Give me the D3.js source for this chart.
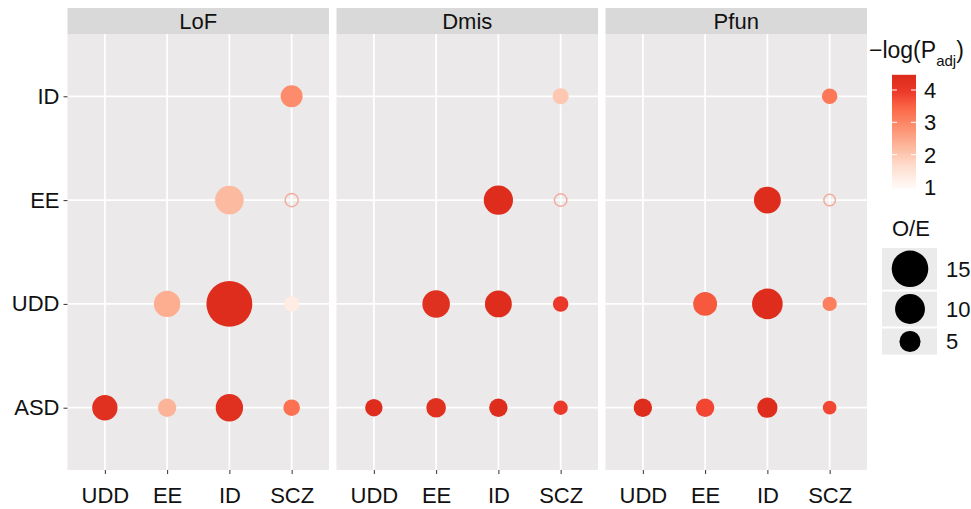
<!DOCTYPE html>
<html>
<head>
<meta charset="utf-8">
<script src="https://cdn.jsdelivr.net/npm/d3@7"></script>
<style>
  body { margin: 0; background: #fff; }
  text { font-family: "Liberation Sans", Arial, sans-serif; fill: #111; }
</style>
</head>
<body>
<svg id="chart" width="971" height="509"></svg>
<script>
// categories
const panels = ["LoF", "Dmis", "Pfun"];
const xCats = ["UDD", "EE", "ID", "SCZ"];
const yCats = ["ID", "EE", "UDD", "ASD"];   // top to bottom

// O/E per panel, rows follow yCats, columns follow xCats (null = no point)
const oeLoF  = [[null, null, null, 5.4], [null, null, 9.2, 2.4], [null, 7.8, 23.6, 2.6], [7.2, 3.8, 8.4, 3.1]];
const oeDmis = [[null, null, null, 2.9], [null, null, 9.6, 2.2], [null, 8.5, 8.1, 2.7], [3.4, 4.3, 3.8, 2.3]];
const oePfun = [[null, null, null, 2.7], [null, null, 8.1, 1.9], [null, 6.4, 10.5, 2.3], [3.8, 3.8, 4.6, 2.1]];

// -log(P_adj) per panel (values below 1 are drawn as open rings)
const lpLoF  = [[null, null, null, 2.9], [null, null, 2.2, 0.8], [null, 2.4, 4.4, 1.3], [4.3, 2.3, 4.3, 3.3]];
const lpDmis = [[null, null, null, 2.0], [null, null, 4.4, 0.8], [null, 4.3, 4.4, 4.0], [4.4, 4.3, 4.4, 4.0]];
const lpPfun = [[null, null, null, 3.2], [null, null, 4.4, 0.8], [null, 3.6, 4.4, 3.1], [4.4, 3.8, 4.4, 3.8]];

// legend breaks
const colorBreaks = [1, 2, 3, 4];
const sizeBreaks = [15, 10, 5];

const oeData = [oeLoF, oeDmis, oePfun];
const lpData = [lpLoF, lpDmis, lpPfun];

const svg = d3.select("#chart");

const panelW = 261.5, panelGap = 7.5, panelLeft = 67.5;
const panelTop = 34, panelBottom = 470, stripTop = 8;
const lpMin = 0.95, lpMax = 4.47;

const x = d3.scalePoint().domain(xCats).range([0, panelW]).padding(0.6);
const y = d3.scalePoint().domain(yCats).range([panelTop, panelBottom]).padding(0.6);
const r = d3.scaleSqrt().domain([0, 15]).range([0, 18.3]);
const color = d3.scaleLinear()
  .domain([lpMin, 1.6, 2.2, 2.8, 3.4, 3.9, 4.3, lpMax])
  .range(["#fffaf8", "#fee0d2", "#fcbba1", "#fc9272", "#fb6a4a", "#ef3b2c", "#e0301f", "#dc2a1c"])
  .interpolate(d3.interpolateLab).clamp(true);

// build point table
const points = [];
panels.forEach((p, pi) => {
  yCats.forEach((row, ri) => {
    xCats.forEach((col, ci) => {
      const oe = oeData[pi][ri][ci];
      if (oe == null) return;
      points.push({panel: p, row: row, col: col, oe: oe, lp: lpData[pi][ri][ci]});
    });
  });
});

panels.forEach((p, pi) => {
  const x0 = panelLeft + pi * (panelW + panelGap);
  const g = svg.append("g").attr("transform", "translate(" + x0 + ",0)");

  // strip
  g.append("rect").attr("x", 0).attr("y", stripTop)
    .attr("width", panelW).attr("height", panelTop - stripTop).attr("fill", "#d9d9d9");
  g.append("text").attr("x", panelW / 2).attr("y", 29)
    .attr("text-anchor", "middle").attr("font-size", 22).text(p);

  // panel
  g.append("rect").attr("x", 0).attr("y", panelTop)
    .attr("width", panelW).attr("height", panelBottom - panelTop).attr("fill", "#ebe9ea");

  g.selectAll(".vgrid").data(xCats).enter().append("line")
    .attr("x1", d => x(d)).attr("x2", d => x(d))
    .attr("y1", panelTop).attr("y2", panelBottom)
    .attr("stroke", "#fff").attr("stroke-width", 1.8);
  g.selectAll(".hgrid").data(yCats).enter().append("line")
    .attr("x1", 0).attr("x2", panelW)
    .attr("y1", d => y(d)).attr("y2", d => y(d))
    .attr("stroke", "#fff").attr("stroke-width", 1.8);

  // points
  const pts = points.filter(d => d.panel == p);
  g.selectAll(".dot").data(pts).enter().append("circle")
    .attr("cx", d => x(d.col)).attr("cy", d => y(d.row))
    .attr("r", d => d.lp < 1 ? r(d.oe) - 0.75 : r(d.oe))
    .attr("fill", d => d.lp < 1 ? "none" : color(d.lp))
    .attr("stroke", d => d.lp < 1 ? "#f4ad9d" : "none")
    .attr("stroke-width", 1.5);

  // bottom axis
  const ax = g.append("g").attr("transform", "translate(0," + panelBottom + ")")
    .call(d3.axisBottom(x).tickSize(4).tickPadding(13));
  ax.select(".domain").remove();
  ax.selectAll("line").attr("stroke", "#333");
  ax.selectAll("text").attr("font-size", 22).attr("fill", "#111")
    .attr("font-family", "Liberation Sans, Arial, sans-serif");
});

// left axis
const ay = svg.append("g").attr("transform", "translate(" + panelLeft + ",0)")
  .call(d3.axisLeft(y).tickSize(4).tickPadding(4));
ay.select(".domain").remove();
ay.selectAll("line").attr("stroke", "#333");
ay.selectAll("text").attr("font-size", 22).attr("fill", "#111")
  .attr("font-family", "Liberation Sans, Arial, sans-serif");

// colour legend
const leg = svg.append("g");
const title = leg.append("text").attr("x", 869).attr("y", 58).attr("font-size", 23);
title.append("tspan").text("\u2212log(P");
title.append("tspan").attr("font-size", 15).attr("dy", 8).text("adj");
title.append("tspan").attr("dy", -8).text(")");

const cy = d3.scaleLinear().domain([1, 4]).range([187, 90]);
const defs = svg.append("defs");
const grad = defs.append("linearGradient").attr("id", "cbar")
  .attr("x1", 0).attr("y1", 1).attr("x2", 0).attr("y2", 0);
d3.range(0, 1.0001, 0.05).forEach(t => {
  const v = lpMin + t * (lpMax - lpMin);
  grad.append("stop").attr("offset", t).attr("stop-color", color(v));
});
leg.append("rect").attr("x", 892).attr("y", cy(lpMax))
  .attr("width", 24).attr("height", cy(lpMin) - cy(lpMax)).attr("fill", "url(#cbar)");
leg.selectAll(".ctick").data(colorBreaks.filter(d => d > 1)).enter().append("g")
  .each(function(d) {
    d3.select(this).append("line").attr("x1", 892).attr("x2", 897)
      .attr("y1", cy(d)).attr("y2", cy(d)).attr("stroke", "#fff").attr("stroke-width", 1);
    d3.select(this).append("line").attr("x1", 911).attr("x2", 916)
      .attr("y1", cy(d)).attr("y2", cy(d)).attr("stroke", "#fff").attr("stroke-width", 1);
  });
leg.selectAll(".clab").data(colorBreaks).enter().append("text")
  .attr("x", 924).attr("y", d => cy(d)).attr("dy", "0.36em")
  .attr("font-size", 22).text(d => d);

// size legend
leg.append("text").attr("x", 892).attr("y", 236).attr("font-size", 22).text("O/E");
let ky = 248;
sizeBreaks.forEach(v => {
  const h = 2 * r(v) + 5;
  leg.append("rect").attr("x", 882).attr("y", ky).attr("width", 55).attr("height", h)
    .attr("fill", "#ebebeb");
  leg.append("circle").attr("cx", 910).attr("cy", ky + h / 2).attr("r", r(v)).attr("fill", "#000");
  leg.append("text").attr("x", 946).attr("y", ky + h / 2).attr("dy", "0.36em")
    .attr("font-size", 22).text(v);
  ky += h + 2;
});
</script>
</body>
</html>
